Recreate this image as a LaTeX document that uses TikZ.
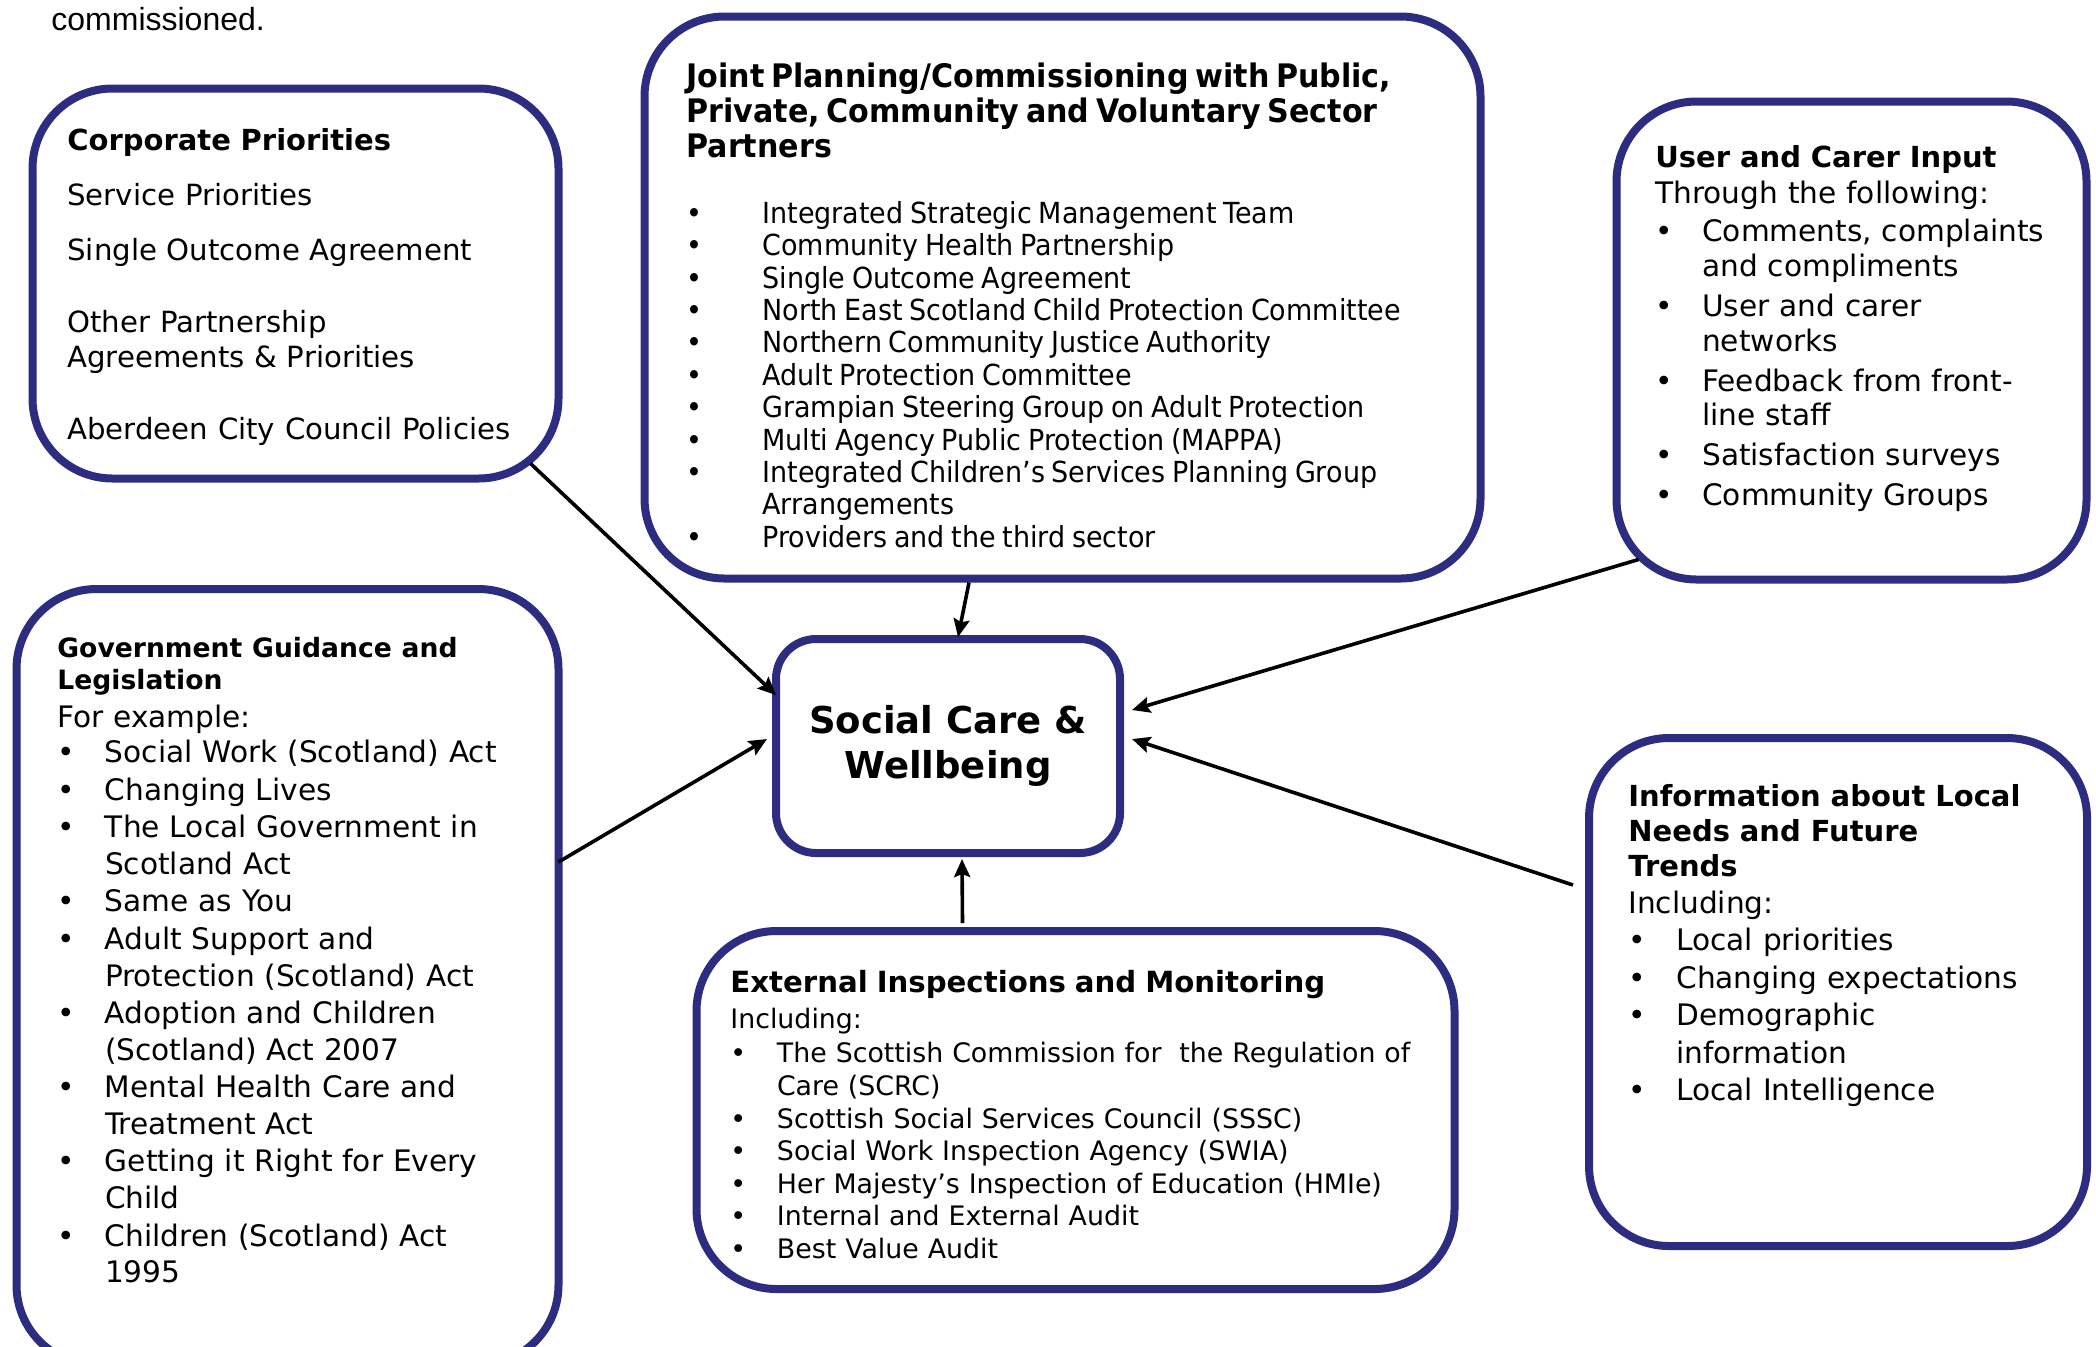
\documentclass[tikz,border=0pt]{standalone}
\usepackage{fontspec}
\setmainfont{DejaVu Sans}
\newfontfamily\narrowfont[FakeStretch=0.93]{DejaVu Sans}
\newfontfamily\notefont{Liberation Sans}
\usetikzlibrary{arrows.meta,shadows}
\definecolor{boxnavy}{HTML}{2C2C80}
\definecolor{boxshade}{HTML}{212160}

% bullet lines with a hanging indent (break lines with \newline)
\newlength\bulletind
\newcommand{\bitem}[1]{\par\noindent\hangindent=\bulletind\hangafter=1\makebox[\bulletind][l]{\textbullet}#1\par}
\newcommand{\headfont}{\fontsize{14.5}{17.4}\bfseries\selectfont}
\newcommand{\smallhead}{\fontsize{13.3}{16}\bfseries\selectfont}
\newcommand{\bodyfont}{\fontsize{14.8}{18.35}\selectfont}
\newcommand{\smallbody}{\fontsize{13.4}{16.3}\selectfont}

\tikzset{
  panel/.style={draw=boxnavy,fill=white,line width=4pt,rounded corners=40pt,
                general shadow={fill=boxshade,shadow xshift=1pt,shadow yshift=1.5pt}},
  hub/.style={panel,rounded corners=20pt,align=center,
              font=\fontsize{18.5}{22.5}\bfseries\selectfont},
  paneltext/.style={anchor=north west,inner sep=0pt,align=left,text width=#1},
  paneltext/.default=240pt,
  flowarr/.style={-{Stealth[length=9pt,width=8pt,inset=1.5pt]},line width=1.8pt}
}

\begin{document}
\begin{tikzpicture}[x=0.5pt,y=-0.5pt]
  \path[use as bounding box,clip] (0,0) rectangle (2096,1346);

  \node[anchor=base west,inner sep=0pt,font=\notefont\fontsize{16}{19}\selectfont] (note) at (51,30) {commissioned.};

  % the boxes round the hub
  \node[panel,minimum width=263pt,minimum height=195pt] (corp) at (295.5,283.5) {};
  \node[panel,minimum width=418pt,minimum height=281pt] (joint) at (1062.5,297.5) {};
  \node[panel,minimum width=235pt,minimum height=239pt] (user) at (1851.5,340.5) {};
  \node[panel,minimum width=271pt,minimum height=388pt] (gov) at (287.5,977) {};
  \node[panel,minimum width=379pt,minimum height=179pt] (ext) at (1075.5,1110) {};
  \node[panel,minimum width=249pt,minimum height=254pt] (info) at (1838,992) {};
  \node[hub,minimum width=172pt,minimum height=107pt] (care) at (948,746) {Social Care \&\\Wellbeing};

  % box texts
  \node[paneltext=250pt,font=\fontsize{14.6}{17.5}\selectfont] (corptxt) at (67,128) {%
    {\headfont Corporate Priorities}\\[10pt]
    Service Priorities\\[10pt]
    Single Outcome Agreement\\[18.5pt]
    Other Partnership\\
    Agreements \& Priorities\\[18.5pt]
    Aberdeen City Council Policies};

  \node[paneltext=410pt,font=\narrowfont\setlength\bulletind{38pt}] (jointtxt) at (686,62) {%
    {\bfseries\fontsize{16.2}{17.7}\selectfont Joint Planning/Commissioning with Public,\\
     Private, Community and Voluntary Sector\\
     Partners\par}
    \vskip 16.5pt
    \fontsize{14.5}{16.2}\selectfont
    \bitem{Integrated Strategic Management Team}
    \bitem{Community Health Partnership}
    \bitem{Single Outcome Agreement}
    \bitem{North East Scotland Child Protection Committee}
    \bitem{Northern Community Justice Authority}
    \bitem{Adult Protection Committee}
    \bitem{Grampian Steering Group on Adult Protection}
    \bitem{Multi Agency Public Protection (MAPPA)}
    \bitem{Integrated Children’s Services Planning Group\newline Arrangements}
    \bitem{Providers and the third sector}};

  \node[paneltext=215pt,font=\fontsize{14.8}{17.4}\selectfont\setlength\parskip{2.6pt}\setlength\bulletind{23.4pt}] (usertxt) at (1655,145) {%
    {\headfont User and Carer Input\par}
    \vskip -2pt
    Through the following:\par
    \vskip -1pt
    \bitem{Comments, complaints\newline and compliments}
    \bitem{User and carer\newline networks}
    \bitem{Feedback from front-\newline line staff}
    \bitem{Satisfaction surveys}
    \bitem{Community Groups}};

  \node[paneltext=245pt,font=\bodyfont\setlength\parskip{0.4pt}\setlength\bulletind{23.8pt}] (govtxt) at (57,637) {%
    {\smallhead Government Guidance and\\Legislation\par}
    For example:\par
    \vskip -1pt
    \bitem{Social Work (Scotland) Act}
    \bitem{Changing Lives}
    \bitem{The Local Government in\newline Scotland Act}
    \bitem{Same as You}
    \bitem{Adult Support and\newline Protection (Scotland) Act}
    \bitem{Adoption and Children\newline (Scotland) Act 2007}
    \bitem{Mental Health Care and\newline Treatment Act}
    \bitem{Getting it Right for Every\newline Child}
    \bitem{Children (Scotland) Act\newline 1995}};

  \node[paneltext=365pt,font=\smallbody\setlength\bulletind{23.3pt}] (exttxt) at (730,970) {%
    {\fontsize{14.6}{17.4}\bfseries\selectfont External Inspections and Monitoring\par}
    \vskip 1.5pt
    Including:\par
    \vskip 1pt
    \bitem{The Scottish Commission for\ \ the Regulation of\newline Care (SCRC)}
    \bitem{Scottish Social Services Council (SSSC)}
    \bitem{Social Work Inspection Agency (SWIA)}
    \bitem{Her Majesty’s Inspection of Education (HMIe)}
    \bitem{Internal and External Audit}
    \bitem{Best Value Audit}};

  \node[paneltext=225pt,font=\fontsize{14.8}{18.7}\selectfont\setlength\bulletind{24pt}] (infotxt) at (1628,784) {%
    {\headfont Information about Local\\Needs and Future\\Trends\par}
    Including:
    \bitem{Local priorities}
    \bitem{Changing expectations}
    \bitem{Demographic\newline information}
    \bitem{Local Intelligence}};

  % arrows into the hub
  \draw[flowarr] ([shift={(-32,-19)}]corp.south east) -- ([shift={(4,-51)}]care.west);
  \draw[flowarr] ([shift={(-93.5,0)}]joint.south) -- ([shift={(10,2)}]care.north);
  \draw[flowarr] ([shift={(26,-24)}]user.south west) -- ([shift={(8,-36)}]care.east);
  \draw[flowarr] ([shift={(-4,-115)}]gov.east) -- ([shift={(-5,-7)}]care.west);
  \draw[flowarr] ([shift={(-12,-107)}]info.west) -- ([shift={(8,-7)}]care.east);
  \draw[flowarr] ([shift={(-113,-4)}]ext.north) -- ([shift={(14,2)}]care.south);
\end{tikzpicture}
\end{document}
